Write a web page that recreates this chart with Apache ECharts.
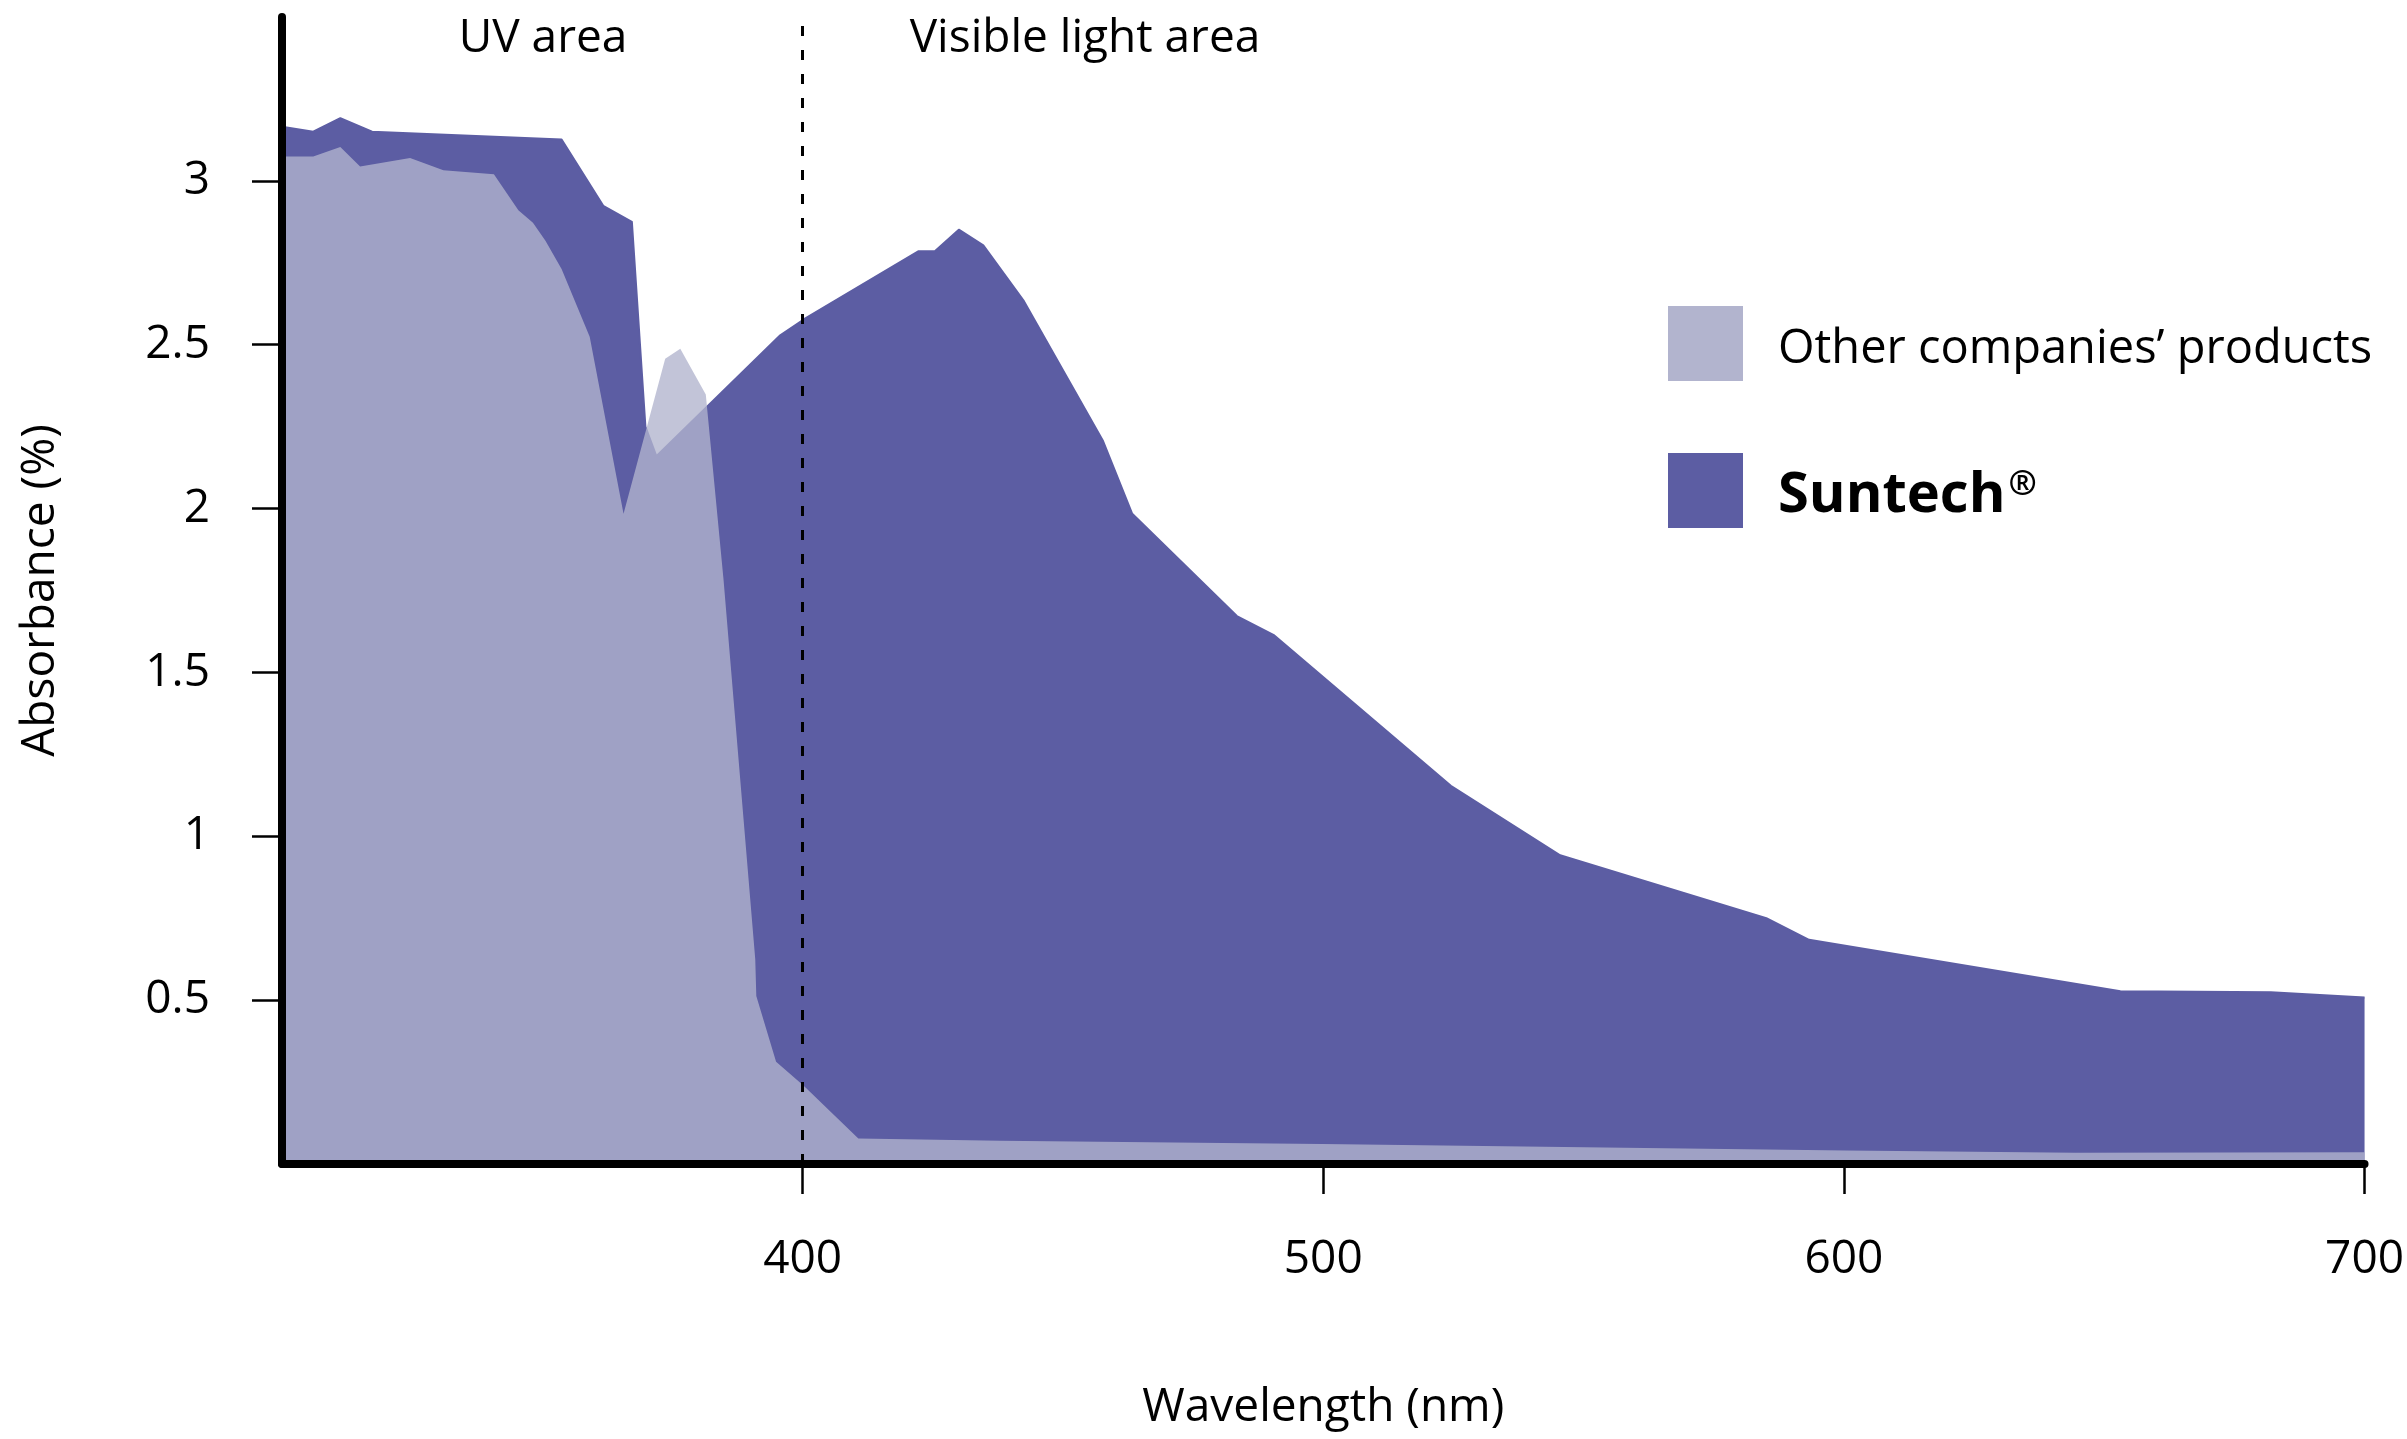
<!DOCTYPE html>
<html>
<head>
<meta charset="utf-8">
<script src="https://cdn.jsdelivr.net/npm/echarts@6/dist/echarts.min.js"></script>
<style>
  html, body { margin: 0; padding: 0; background: #fff; }
  #chart { width: 2407px; height: 1439px; }
</style>
</head>
<body>
<div id="chart"></div>
<script>
// ---- Data ----
const suntechWavelength = [300, 306, 311.2, 317.3, 353.7, 361.7, 367.2, 369.8, 371.9, 395.7, 400.2, 422.2, 425.4, 430, 434.7, 442.5, 457.7, 463.3, 483.4, 490.6, 524.5, 545.5, 585.1, 593.3, 653.1, 682, 700];
const suntechAbsorbance = [3.165, 3.150, 3.191, 3.150, 3.126, 2.924, 2.875, 2.25, 2.16, 2.529, 2.577, 2.785, 2.785, 2.851, 2.803, 2.633, 2.206, 1.984, 1.672, 1.613, 1.154, 0.942, 0.750, 0.684, 0.527, 0.524, 0.508];

const otherWavelength = [300, 306, 311.2, 315, 324.6, 331, 340.7, 345.4, 348.2, 350.6, 353.7, 359.1, 365.6, 373.6, 376.5, 381.4, 384.8, 390.9, 391.1, 394.9, 400.2, 410.7, 437.9, 499.8, 600.5, 644.4, 700];
const otherAbsorbance = [3.074, 3.074, 3.103, 3.044, 3.070, 3.032, 3.020, 2.910, 2.872, 2.817, 2.731, 2.524, 1.984, 2.457, 2.488, 2.348, 1.784, 0.625, 0.513, 0.312, 0.239, 0.078, 0.071, 0.061, 0.041, 0.034, 0.036];

const xTickValues = [400, 500, 600, 700];
const yTickValues = [0.5, 1, 1.5, 2, 2.5, 3];
const boundaryWavelength = 400;

const seriesNames = ['Other companies\u2019 products', 'Suntech'];
const regionLabels = ['UV area', 'Visible light area'];

// ---- Build ----
const pairs = (xs, ys) => xs.map((x, i) => [x, ys[i]]);
const FONT = '"Open Sans", "Noto Sans", sans-serif';
const DARK = '#5c5da3';
const LIGHT = '#b2b4ce';

const chart = echarts.init(document.getElementById('chart'), null, { renderer: 'canvas' });

chart.setOption({
  animation: false,
  backgroundColor: '#ffffff',
  textStyle: { fontFamily: FONT, color: '#000' },
  grid: { left: 282, right: 40, top: 17, bottom: 275, containLabel: false },
  xAxis: {
    type: 'value',
    z: 10,
    min: 300,
    max: 700,
    interval: 100,
    name: 'Wavelength (nm)',
    nameLocation: 'middle',
    nameGap: 221,
    nameTextStyle: { fontSize: 46, fontFamily: FONT, color: '#000' },
    axisLine: { show: true, onZero: false, lineStyle: { color: '#000', width: 8 } },
    axisTick: { show: true, customValues: xTickValues, length: 30, lineStyle: { color: '#000', width: 2.5 } },
    axisLabel: { customValues: xTickValues, fontSize: 46, fontFamily: FONT, color: '#000', margin: 73 },
    splitLine: { show: false }
  },
  yAxis: {
    type: 'value',
    z: 10,
    min: 0,
    max: 3.5,
    interval: 0.5,
    name: 'Absorbance (%)',
    nameLocation: 'middle',
    nameGap: 218,
    nameTextStyle: { fontSize: 46, fontFamily: FONT, color: '#000' },
    axisLine: { show: true, onZero: false, lineStyle: { color: '#000', width: 8 } },
    axisTick: { show: true, customValues: yTickValues, length: 30, lineStyle: { color: '#000', width: 2.5 } },
    axisLabel: { customValues: yTickValues, fontSize: 46, fontFamily: FONT, color: '#000', margin: 72 },
    splitLine: { show: false }
  },
  legend: {
    orient: 'vertical',
    left: 1668,
    top: 306,
    padding: 0,
    itemWidth: 75,
    itemHeight: 75,
    itemGap: 72,
    icon: 'rect',
    selectedMode: false,
    data: [
      { name: seriesNames[0], itemStyle: { color: LIGHT } },
      { name: seriesNames[1], itemStyle: { color: DARK } }
    ],
    formatter: function (name) {
      if (name === seriesNames[1]) return '{s|Suntech}{r|\u00ae}';
      return '{o|' + name + '}';
    },
    textStyle: {
      padding: [12, 0, 0, 30],
      rich: {
        o: { fontSize: 47, fontFamily: FONT, color: '#000' },
        s: { fontSize: 56, fontWeight: 'bold', fontFamily: FONT, color: '#000' },
        r: { fontSize: 34, fontWeight: 'bold', fontFamily: FONT, color: '#000', verticalAlign: 'top', padding: [0, 0, 0, 3] }
      }
    }
  },
  graphic: [
    { type: 'text', x: 543, y: 39, style: { text: regionLabels[0], fontSize: 46, fontFamily: FONT, fill: '#000', textAlign: 'center', textVerticalAlign: 'middle' } },
    { type: 'text', x: 1085, y: 39, style: { text: regionLabels[1], fontSize: 46, fontFamily: FONT, fill: '#000', textAlign: 'center', textVerticalAlign: 'middle' } }
  ],
  series: [
    {
      name: seriesNames[1],
      type: 'line',
      data: pairs(suntechWavelength, suntechAbsorbance),
      symbol: 'none',
      z: 2,
      itemStyle: { color: DARK },
      lineStyle: { width: 2, color: DARK, join: 'round' },
      areaStyle: { color: DARK, opacity: 1 },
      markLine: {
        silent: true,
        symbol: 'none',
        label: { show: false },
        lineStyle: { color: '#000', width: 3, type: [10, 14] },
        data: [{ xAxis: boundaryWavelength }]
      }
    },
    {
      name: seriesNames[0],
      type: 'line',
      data: pairs(otherWavelength, otherAbsorbance),
      symbol: 'none',
      z: 3,
      itemStyle: { color: LIGHT },
      lineStyle: { width: 0, opacity: 0 },
      areaStyle: { color: 'rgba(178,180,206,0.79)', opacity: 1 }
    }
  ]
});
</script>
</body>
</html>
